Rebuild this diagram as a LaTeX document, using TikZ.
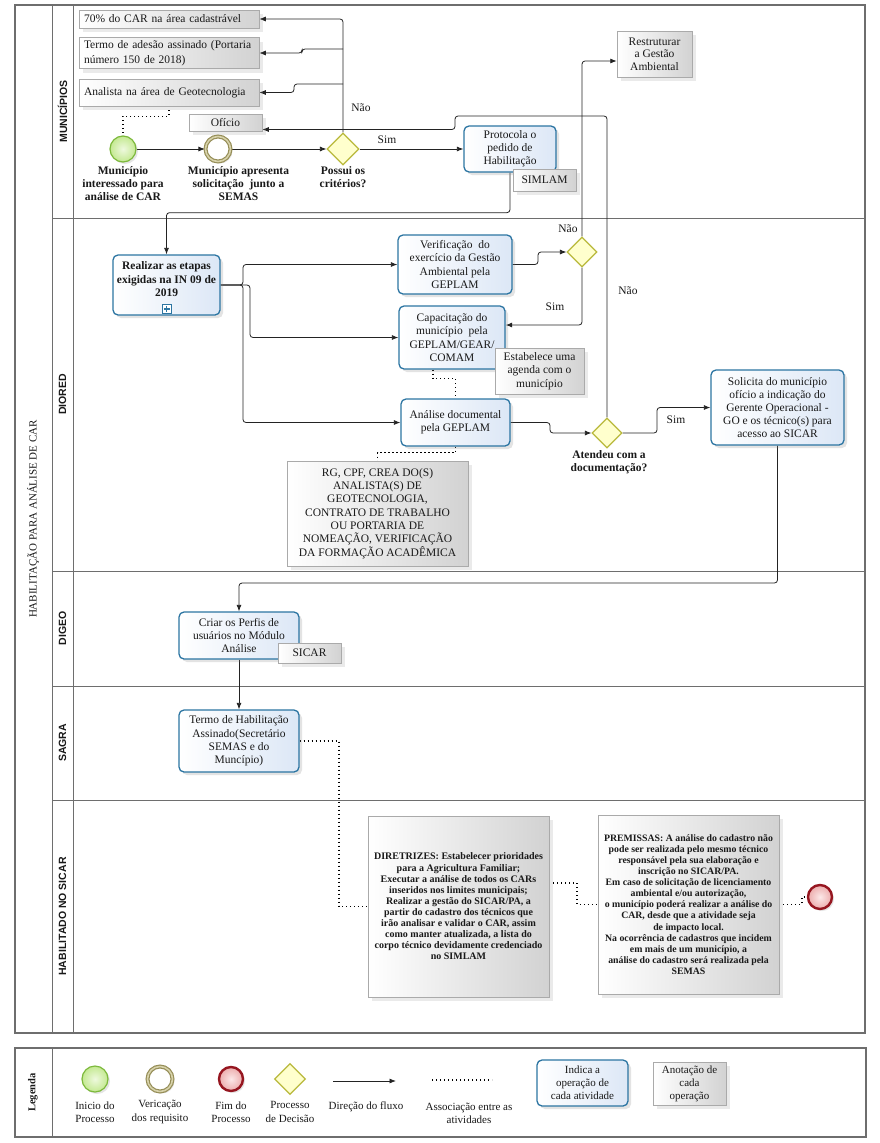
\documentclass[tikz,border=0pt]{standalone}
\usepackage{fontspec}
\setmainfont{Liberation Serif}
\newfontfamily\lanefont{Liberation Sans}
\usetikzlibrary{shapes.geometric,shadows,arrows.meta,calc}
\pgfdeclarelayer{back}
\pgfdeclarelayer{mid}
\pgfsetlayers{back,mid,main}
\definecolor{taskb}{RGB}{44,117,162}
\definecolor{taskf}{RGB}{220,231,246}
\definecolor{annb}{RGB}{170,170,170}
\definecolor{annf}{RGB}{210,210,210}
\definecolor{startb}{RGB}{125,185,60}
\definecolor{startf}{RGB}{196,233,145}
\definecolor{startc}{RGB}{238,249,222}
\definecolor{intb}{RGB}{150,142,88}
\definecolor{intm}{RGB}{215,210,170}
\definecolor{endb}{RGB}{150,22,32}
\definecolor{endf}{RGB}{236,172,172}
\definecolor{endc}{RGB}{252,232,232}
\definecolor{gwb}{RGB}{185,185,60}
\definecolor{gwf}{RGB}{255,255,205}
\definecolor{poolline}{RGB}{110,110,110}
\definecolor{flow}{RGB}{35,35,35}
\definecolor{textc}{RGB}{25,25,25}
\begin{document}
\begin{tikzpicture}[x=1pt,y=-1pt,
  font=\fontsize{11.5}{13}\selectfont,
  every node/.append style={text=textc},
  tsk/.style={draw=taskb, line width=1.3pt, rounded corners=5pt, left color=white, right color=taskf, align=center, inner sep=2pt,
    drop shadow={shadow xshift=3pt,shadow yshift=-3pt,opacity=0.22}},
  ann/.style={draw=annb, line width=0.5pt, left color=white, right color=annf, align=center, inner sep=2pt,
    drop shadow={shadow xshift=4pt,shadow yshift=-4pt,opacity=0.16}},
  annl/.style={ann, align=left, text width=170pt, inner xsep=5pt},
  startev/.style={circle, draw=startb, line width=1.2pt, inner color=startc, outer color=startf, minimum size=26pt, inner sep=0pt,
    drop shadow={shadow xshift=2pt,shadow yshift=-2pt,opacity=0.2}},
  intev/.style={circle, draw=intb, line width=1.2pt, double=intm, double distance=1.6pt, fill=white, minimum size=25pt, inner sep=0pt,
    drop shadow={shadow xshift=2pt,shadow yshift=-2pt,opacity=0.2}},
  endev/.style={circle, draw=endb, line width=2.4pt, inner color=endc, outer color=endf, minimum size=24pt, inner sep=0pt,
    drop shadow={shadow xshift=2pt,shadow yshift=-2pt,opacity=0.2}},
  gw/.style={diamond, aspect=1, draw=gwb, line width=1.2pt, fill=gwf, inner sep=0pt, minimum width=31pt, minimum height=31pt},
  lbl/.style={font=\bfseries\fontsize{11.5}{13}\selectfont, align=center},
  flab/.style={font=\fontsize{11.5}{13}\selectfont},
  lanelbl/.style={rotate=90, font=\lanefont\bfseries\fontsize{10.5}{12}\selectfont},
  lgt/.style={font=\fontsize{11}{13.5}\selectfont, align=center},
  fl/.style={draw=flow, line width=0.8pt, rounded corners=3pt, -{Latex[length=6.5pt,width=5pt]}},
  asc/.style={draw=black, line width=1.1pt, dash pattern=on 1.1pt off 2.9pt}
]
\useasboundingbox (0,0) rectangle (880,1143);
\begin{pgfonlayer}{back}
\fill[white] (0,0) rectangle (880,1143);
\draw[poolline, line width=1.2pt] (15,5) rectangle (865,1033);
\draw[poolline, line width=1pt] (52,5) -- (52,1033) (73,5) -- (73,1033);
\foreach \yy in {218,571,686,800} \draw[poolline, line width=1pt] (52,\yy) -- (865,\yy);
\draw[poolline, line width=1.2pt] (15,1048) rectangle (866,1137);
\draw[poolline, line width=1pt] (52,1048) -- (52,1137);
\end{pgfonlayer}

% pool and lane labels
\node[rotate=90, font=\fontsize{11}{12}\selectfont] (pool) at (33,519) {HABILITAÇÃO PARA ANÁLISE DE CAR};
\node[lanelbl] (lMun) at (62.5,111.5) {MUNICÍPIOS};
\node[lanelbl] (lDio) at (62.5,394.5) {DIORED};
\node[lanelbl] (lDig) at (62.5,628.5) {DIGEO};
\node[lanelbl] (lSag) at (62.5,743) {SAGRA};
\node[lanelbl] (lHab) at (62.5,916.5) {HABILITADO NO  SICAR};

% MUNICIPIOS lane
\node[annl, minimum height=18pt] (a70) at (169,19) {70\% do CAR na área cadastrável};
\node[annl, minimum height=31pt, font=\fontsize{11.5}{14.5}\selectfont] (aTermo) at (169,53) {Termo de adesão assinado (Portaria\\número 150 de 2018)};
\node[annl, minimum height=27pt] (aAnal) at (169,92.5) {Analista na área de Geotecnologia};
\node[ann, minimum width=73pt, minimum height=17pt] (aOf) at (225.5,122.5) {Ofício};
\node[ann, minimum width=75pt, minimum height=46pt, font=\fontsize{11.5}{12.5}\selectfont] (aRes) at (654.5,54) {Restruturar\\a Gestão\\Ambiental};

\node[startev] (eStart) at (123,149) {};
\node[intev] (eInt) at (218,149) {};
\node[gw, minimum width=32pt, minimum height=32pt] (gPos) at (343,149) {};
\node[lbl] (lbStart) at (123,184) {Município\\interessado para\\análise de CAR};
\node[lbl] (lbInt) at (238.5,184) {Município apresenta\\solicitação\ \ junto a\\SEMAS};
\node[lbl] (lbPos) at (343,177.5) {Possui os\\critérios?};

\node[tsk, minimum width=92pt, minimum height=46pt] (tProt) at (510,149) {Protocola o\\pedido de\\Habilitação};
\node[ann, minimum width=63pt, minimum height=22pt] (aSim) at (544.5,180) {SIMLAM};

% DIORED lane
\node[tsk, minimum width=107pt, minimum height=60pt, font=\bfseries\fontsize{11.5}{13.5}\selectfont] (tReal) at (166.5,285) {Realizar as etapas\\exigidas na IN 09 de\\2019\\[-2pt]};
\node[draw=taskb, line width=0.9pt, fill=white, minimum size=9pt, inner sep=0pt,
  path picture={\draw[taskb, line width=1.6pt] ($(path picture bounding box.center)+(-3,0)$) -- ++(6,0)
    ($(path picture bounding box.center)+(0,-3)$) -- ++(0,6);}] (plus) at (166.5,309) {};

\node[tsk, minimum width=114pt, minimum height=59pt, font=\fontsize{11.5}{13.3}\selectfont] (tVer) at (455,264.5) {Verificação\ \ do\\exercício da Gestão\\Ambiental pela\\GEPLAM};
\node[tsk, minimum width=106pt, minimum height=63pt, font=\fontsize{11.5}{13.3}\selectfont] (tCap) at (452,337.5) {Capacitação do\\município\ \ pela\\GEPLAM/GEAR/\\COMAM};
\node[ann, minimum width=89pt, minimum height=46pt, font=\fontsize{11.5}{13.5}\selectfont] (aEst) at (539.5,371) {Estabelece uma\\agenda com o\\município};
\node[tsk, minimum width=109pt, minimum height=47pt] (tAnal) at (455.5,422.5) {Análise documental\\pela GEPLAM};
\node[ann, minimum width=181pt, minimum height=105pt, font=\fontsize{11.5}{13.3}\selectfont] (aRG) at (377.5,513.5) {RG, CPF, CREA DO(S)\\ANALISTA(S) DE\\GEOTECNOLOGIA,\\CONTRATO DE TRABALHO\\OU PORTARIA DE\\NOMEAÇÃO, VERIFICAÇÃO\\DA FORMAÇÃO ACADÊMICA};

\node[gw, minimum width=30pt, minimum height=30pt] (gVer) at (582,252) {};
\node[gw, minimum width=30pt, minimum height=30pt] (gAt) at (607,433) {};
\node[lbl] (lbAt) at (609,462) {Atendeu com a\\documentação?};
\node[tsk, minimum width=133pt, minimum height=75pt] (tSol) at (777.5,407.5) {Solicita do município\\ofício a indicação do\\Gerente Operacional -\\GO e os técnico(s) para\\acesso ao SICAR};

% DIGEO / SAGRA
\node[tsk, minimum width=120pt, minimum height=47pt] (tCriar) at (239,635.5) {Criar os Perfis de\\usuários no Módulo\\Análise};
\node[ann, minimum width=63pt, minimum height=20pt] (aSICAR) at (309.5,653) {SICAR};
\node[tsk, minimum width=120pt, minimum height=62pt, font=\fontsize{11.5}{13.3}\selectfont] (tTermo) at (239,741) {Termo de Habilitação\\Assinado(Secretário\\SEMAS e do\\Muncípio)};

% HABILITADO NO SICAR
\node[ann, minimum width=181pt, minimum height=181pt, font=\bfseries\fontsize{10}{11.1}\selectfont] (aDir) at (458.5,906.5) {DIRETRIZES: Estabelecer prioridades\\para a Agricultura Familiar;\\Executar a análise de todos os CARs\\inseridos nos limites municipais;\\Realizar a gestão do SICAR/PA, a\\partir do cadastro dos técnicos que\\irão analisar e validar o CAR, assim\\como manter atualizada, a lista do\\corpo técnico devidamente credenciado\\no SIMLAM};
\node[ann, minimum width=181pt, minimum height=179pt, font=\bfseries\fontsize{9.8}{11.1}\selectfont] (aPrem) at (688.5,904.5) {PREMISSAS: A análise do cadastro não\\pode ser realizada pelo mesmo técnico\\responsável pela sua elaboração e\\inscrição no SICAR/PA.\\Em caso de solicitação de licenciamento\\ambiental e/ou autorização,\\o município poderá realizar a análise do\\CAR, desde que a atividade seja\\de impacto local.\\Na ocorrência de cadastros que incidem\\em mais de um município, a\\análise do cadastro será realizada pela\\SEMAS};
\node[endev] (eEnd) at (820,897) {};

% flow labels
\node[flab] (nNao1) at (361,108) {Não};
\node[flab] (nSim1) at (387,140) {Sim};
\node[flab] (nNao2) at (568,229) {Não};
\node[flab] (nSim2) at (555,307) {Sim};
\node[flab] (nNao3) at (628,291) {Não};
\node[flab] (nSim3) at (676,420) {Sim};

\coordinate (jT) at (343,49);
\coordinate (jA) at (343,84);
\coordinate (jR) at (243,285);

\begin{pgfonlayer}{mid}
\draw[fl] (eStart) -- (eInt);
\draw[fl] (eInt) -- (gPos);
\draw[fl] (gPos) -- (tProt);
\draw[fl] (gPos.north) |- (a70.east);
\draw[fl] (jT) -- (302,49) |- (aTermo.east);
\draw[fl] (jA) -- (294,84) |- (aAnal.east);
\draw[fl] (gAt.north) |- (455,116) |- ([yshift=-7pt]aOf.east);
\draw[fl] (gVer.north) |- ([yshift=-7pt]aRes.west);
\draw[fl] (tProt.south) -- ++(0,40) -| (tReal.north);
\draw[fl] (tReal.east) -- (jR) |- (tVer.west);
\draw[fl] (tReal.east) -- (250,285) |- (tCap.west);
\draw[fl] (tReal.east) -- (jR) |- (tAnal.west);
\draw[fl] (tVer.east) -- (538,264.5) |- (gVer.west);
\draw[fl] (gVer.south) |- ([yshift=12.5pt]tCap.east);
\draw[fl] (tAnal.east) -- (550,422.5) |- (gAt.west);
\draw[fl] (gAt.east) -- (657,433) |- (tSol.west);
\draw[fl] (tSol.south) -- (777.5,583) -| (tCriar.north);
\draw[fl] (tCriar) -- (tTermo);
\draw[asc] (aAnal.south) -- ++(0,10) -| (eStart.north);
\draw[asc] ([xshift=-19pt]tCap.south) -- ++(0,9) -| (tAnal.north);
\draw[asc] (tAnal.south) -- ++(0,6) -| (aRG.north);
\draw[asc] (tTermo.east) -- (339,741) |- (aDir.west);
\draw[asc] ([yshift=23.5pt]aDir.east) -- (577,883) |- (aPrem.west);
\draw[asc] (aPrem.east) -- (802,904.5) |- (eEnd.west);
\end{pgfonlayer}

% legend
\node[rotate=90, font=\bfseries\fontsize{10.5}{12}\selectfont] (legT) at (33,1092.5) {Legenda};
\node[startev] (lg1) at (95,1079) {};
\node[intev] (lg2) at (160,1079) {};
\node[endev] (lg3) at (231,1079) {};
\node[gw] (lg4) at (290,1079) {};
\coordinate (lgA1) at (333,1081);
\coordinate (lgA2) at (396,1081);
\draw[fl] (lgA1) -- (lgA2);
\coordinate (lgD1) at (432,1080);
\coordinate (lgD2) at (492,1080);
\draw[asc] (lgD1) -- (lgD2);
\node[lgt] (lgt1) at (95,1112) {Inicio do\\Processo};
\node[lgt] (lgt2) at (160,1112) {Vericação\\dos requisito};
\node[lgt] (lgt3) at (231,1112) {Fim do\\Processo};
\node[lgt] (lgt4) at (290,1112) {Processo\\de Decisão};
\node[lgt] (lgt5) at (366,1107) {Direção do fluxo};
\node[lgt] (lgt6) at (469,1113.5) {Associação entre as\\atividades};
\node[tsk, minimum width=91pt, minimum height=46pt, font=\fontsize{11}{13}\selectfont] (lgTask) at (582.5,1083) {Indica a\\operação de\\cada atividade};
\node[ann, minimum width=73pt, minimum height=43pt, font=\fontsize{11}{13}\selectfont] (lgAnn) at (689.5,1083.5) {Anotação de\\cada\\operação};
\end{tikzpicture}
\end{document}
